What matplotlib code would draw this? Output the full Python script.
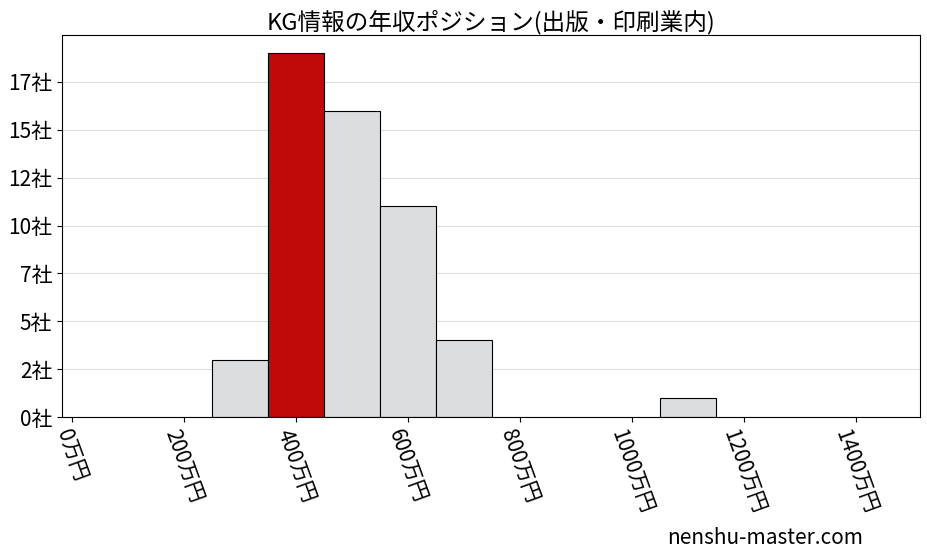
import matplotlib
matplotlib.use("Agg")
import matplotlib.pyplot as plt

plt.rcParams['font.family'] = ['Noto Sans CJK JP', 'DejaVu Sans']

bin_left = [250, 350, 450, 550, 650, 1050]
counts = [3, 19, 16, 11, 4, 1]
colors = ['#dcdddf', '#c00a0a', '#dcdddf', '#dcdddf', '#dcdddf', '#dcdddf']
xticks = [0, 200, 400, 600, 800, 1000, 1200, 1400]
yticks = [0, 2.5, 5, 7.5, 10, 12.5, 15, 17.5]

fig = plt.figure(figsize=(9.28, 5.57), dpi=100)
ax = fig.add_axes([62/928, 1-417/557, 858/928, 382/557])

ax.bar(bin_left, counts, width=100, align='edge', color=colors,
       edgecolor='black', linewidth=0.8, zorder=2)

ax.set_xlim(-18, 1515)
ax.set_ylim(0, 19.95)
ax.set_xticks(xticks)
ax.set_xticklabels([f"{v}万円" for v in xticks], rotation=-70, fontsize=15,
                   ha='center', va='top')
ax.set_yticks(yticks)
ax.set_yticklabels([f"{int(v)}社" for v in yticks], fontsize=15)
ax.yaxis.grid(True, color='#dddddd', linewidth=0.8, zorder=0)
ax.set_axisbelow(True)
ax.set_title("KG情報の年収ポジション(出版・印刷業内)", fontsize=17, pad=4)

fig.text(0.93, 0.015, "nenshu-master.com", fontsize=15, ha='right', va='bottom')

fig.savefig("out.png", dpi=100)
